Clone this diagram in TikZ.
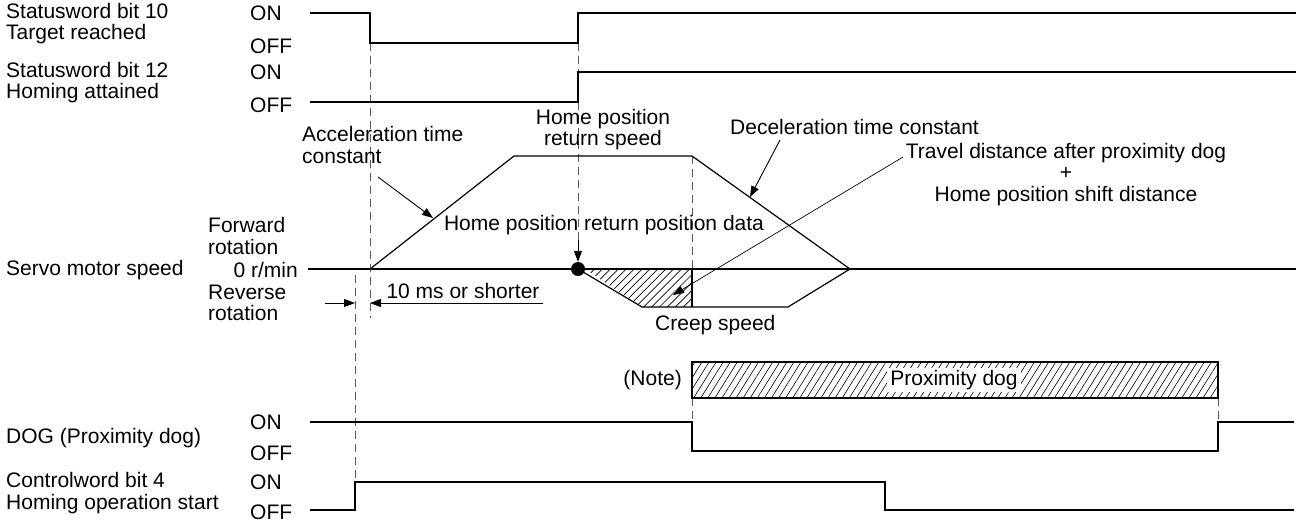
\documentclass[tikz,border=0pt]{standalone}
\usepackage{fontspec}
\setmainfont{Liberation Sans}
\usetikzlibrary{arrows.meta,patterns.meta}
\newcommand{\fs}{\fontsize{21}{21.5}\selectfont}
\tikzset{
  sig/.style={line width=1.2pt, line join=miter},
  dsh/.style={line width=1pt, dash pattern=on 8pt off 5pt, black!65},
  lbl/.style={inner sep=0pt, font=\fs},
  arr/.style={line width=0.9pt, -{Triangle[length=11pt,width=8pt]}},
  hatchA/.style={pattern={Lines[angle=45,distance=5.6pt,line width=0.7pt]}},
  hatchB/.style={pattern={Lines[angle=58,distance=6pt,line width=0.6pt]}},
}
\begin{document}
\begin{tikzpicture}[x=1pt,y=-1pt]
\useasboundingbox (0,0) rectangle (1296,523);

% ---------- left labels ----------
\node[lbl,anchor=west,align=left] (s10) at (6,23.5) {Statusword bit 10\\Target reached};
\node[lbl,anchor=west,align=left] (s12) at (6,82.5) {Statusword bit 12\\Homing attained};
\node[lbl,anchor=west] (sms) at (6,270) {Servo motor speed};
\node[lbl,anchor=west] (dogl) at (6,438) {DOG (Proximity dog)};
\node[lbl,anchor=west] at (6,493) [align=left] (cw) {Controlword bit 4\\Homing operation start};

% ON / OFF labels
\node[lbl,anchor=west] (on1) at (250,13) {ON};
\node[lbl,anchor=west] (off1) at (250,46) {OFF};
\node[lbl,anchor=west] (on2) at (250,72) {ON};
\node[lbl,anchor=west] (off2) at (250,105) {OFF};
\node[lbl,anchor=west] (on3) at (250,422) {ON};
\node[lbl,anchor=west] (off3) at (250,453) {OFF};
\node[lbl,anchor=west] (on4) at (250,482) {ON};
\node[lbl,anchor=west] (off4) at (250,512) {OFF};

\node[lbl,anchor=west,align=left] (fwd) at (208,236) {Forward\\rotation};
\node[lbl,anchor=east] (zero) at (298,270) {0 r/min};
\node[lbl,anchor=west,align=left] (rev) at (208,303) {Reverse\\rotation};

% ---------- dashed guide lines ----------
\draw[dsh] (370,43) -- (370,318);
\draw[dsh] (355,275) -- (355,482);
\draw[dsh] (578,43) -- (578,72);
\draw[dsh] (578,102) -- (578,240);
\draw[dsh] (692,156) -- (692,269);
\draw[dsh] (692,398) -- (692,422);
\draw[dsh] (1218,398) -- (1218,422);

% ---------- signals ----------
\draw[sig] (310,13) -- (370,13) -- (370,43) -- (578,43) -- (578,13) -- (1296,13);
\draw[sig] (310,102) -- (578,102) -- (578,72) -- (1296,72);
\draw[sig] (310,422) -- (692,422) -- (692,451) -- (1218,451) -- (1218,422) -- (1294,422);
\draw[sig] (310,510) -- (355,510) -- (355,482) -- (885,482) -- (885,510) -- (1294,510);

% ---------- speed ----------
\fill[hatchA] (585,269) -- (642,307) -- (692,307) -- (692,269) -- cycle;
\draw[sig] (308,269) -- (1296,269);
\draw[sig] (370,269) -- (514,156) -- (692,156) -- (850,269);
\draw[sig] (578,269) -- (642,307) -- (788,307) -- (850,269);
\draw[sig] (692,269) -- (692,307);
\node[circle,fill=black,inner sep=0pt,minimum size=14pt] (dot) at (578,269) {};

% ---------- annotations ----------
\node[lbl,anchor=west,align=left] (acc) at (302,145) {Acceleration time\\constant};
\node[lbl,align=center] (hprs) at (603,129.5) {Home position\\return speed};
\node[lbl] (hprp) at (604,225) {Home position return position data};
\node[lbl,anchor=west] (dec) at (730,127) {Deceleration time constant};
\node[lbl,align=center] (trav) at (1066,174.5) {Travel distance after proximity dog\\+\\Home position shift distance};
\node[lbl] (tenms) at (463,291) {10 ms or shorter};
\node[lbl,anchor=west] (creep) at (655,325) {Creep speed};
\node[lbl,anchor=east] (note) at (682,380) {(Note)};

\coordinate (accS) at (378,177);
\coordinate (accT) at (433,218);
\coordinate (decS) at (780,140);
\coordinate (decT) at (750,197);
\coordinate (travS) at (903,157);
\coordinate (travT) at (673,295);
\coordinate (posS) at (578,240);
\coordinate (tA) at (325,303);
\coordinate (tAe) at (355,303);
\coordinate (tB) at (543,303);
\coordinate (tBe) at (370,303);

\draw[arr] (accS) -- (accT);
\draw[arr] (decS) -- (decT);
\draw[arr,line width=0.7pt] (travS) -- (travT);
\draw[arr] (posS) -- (dot.north);
\draw[arr] (tA) -- (tAe);
\draw[arr] (tB) -- (tBe);

% ---------- proximity dog ----------
\draw[line width=1.2pt,hatchB] (692,362) rectangle (1218,398);
\node[lbl,fill=white,inner xsep=3pt,inner ysep=2pt] (prox) at (954,380) {Proximity dog};

\end{tikzpicture}
\end{document}
